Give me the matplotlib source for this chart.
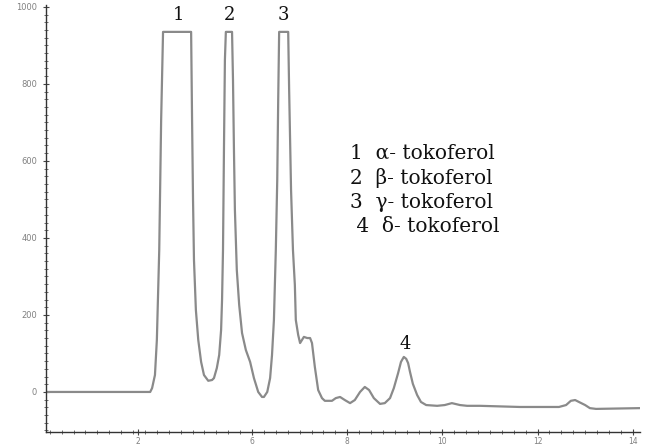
import matplotlib
matplotlib.use('Agg')
import matplotlib.pyplot as plt
from matplotlib.ticker import MultipleLocator

# chromatogram trace (time in min, detector signal)
time_min = [1.69, 3.86, 3.90, 3.96, 4.00, 4.05, 4.09, 4.13,
            4.70, 4.72, 4.74, 4.76, 4.78, 4.82, 4.87, 4.93, 4.99, 5.08,
            5.16, 5.20, 5.26, 5.31, 5.35, 5.37, 5.39, 5.41, 5.43, 5.45,
            5.58, 5.60, 5.62, 5.64, 5.68, 5.73, 5.79, 5.87, 5.96, 6.04,
            6.13, 6.21, 6.25, 6.32, 6.38, 6.42, 6.46, 6.50, 6.53, 6.55,
            6.57, 6.76, 6.78, 6.82, 6.86, 6.90, 6.92, 6.97, 7.01, 7.05,
            7.09, 7.16, 7.22, 7.26, 7.32, 7.39, 7.47, 7.53, 7.68, 7.76,
            7.85, 7.95, 8.06, 8.16, 8.27, 8.37, 8.46, 8.56, 8.69, 8.79,
            8.90, 8.98, 9.07, 9.13, 9.19, 9.24, 9.28, 9.32, 9.38, 9.47,
            9.55, 9.66, 9.89, 10.05, 10.20, 10.37, 10.52, 10.79, 11.63,
            12.45, 12.60, 12.70, 12.79, 12.87, 13.00, 13.10, 13.23, 14.15]
signal = [0, 0, 10, 44, 135, 369, 706, 935,
          935, 935, 706, 499, 343, 213, 135, 78, 44, 29,
          31, 36, 62, 96, 161, 239, 369, 629, 862, 935,
          935, 810, 629, 473, 317, 226, 153, 109, 78, 36,
          0, -13, -13, 0, 36, 96, 187, 369, 551, 758,
          935, 935, 784, 525, 369, 278, 187, 148, 127, 135,
          143, 140, 140, 127, 65, 5, -16, -23, -23, -16,
          -13, -21, -29, -21, 0, 13, 5, -16, -31, -29,
          -16, 10, 49, 78, 91, 86, 75, 52, 21, -8,
          -26, -34, -36, -34, -29, -34, -36, -36, -39,
          -39, -34, -23, -21, -26, -34, -42, -44, -42]

peak_ids = ['1', '2', '3', '4']
peak_pos = [(4.45, 955), (5.52, 955), (6.65, 955), (9.22, 102)]
compounds = ['1  \u03b1- tokoferol', '2  \u03b2- tokoferol',
             '3  \u03b3- tokoferol', ' 4  \u03b4- tokoferol']

xtick_pos = [3.6, 6, 8, 10, 12, 14]
xtick_labels = ['2', '6', '8', '10', '12', '14']
ytick_pos = [0, 200, 400, 600, 800, 1000]

fig = plt.figure(figsize=(6.45, 4.48), dpi=100)
ax = fig.add_axes([0.0713, 0.0357, 0.9207, 0.9533])

ax.plot(time_min, signal, color='#8a8a8a', lw=1.6,
        solid_joinstyle='round', solid_capstyle='round')

ax.set_xlim(1.67, 14.15)
ax.set_ylim(-104, 1005)

for s in ['top', 'right']:
    ax.spines[s].set_visible(False)
for s in ['left', 'bottom']:
    ax.spines[s].set_color('#333333')
    ax.spines[s].set_linewidth(1.0)

ax.set_xticks(xtick_pos)
ax.set_xticklabels(xtick_labels)
ax.set_yticks(ytick_pos)
ax.set_yticklabels([str(v) for v in ytick_pos])
ax.xaxis.set_minor_locator(MultipleLocator(0.25))
ax.yaxis.set_minor_locator(MultipleLocator(20))
ax.tick_params(which='major', direction='inout', length=5, width=0.8,
               color='#444444', labelsize=6, labelcolor='#808080', pad=4)
ax.tick_params(axis='x', which='major', labelsize=5.5, pad=1)
ax.tick_params(which='minor', direction='inout', length=3, width=0.6,
               color='#555555')

serif = ['DejaVu Serif']
for lab, (x, y) in zip(peak_ids, peak_pos):
    ax.text(x, y, lab, ha='center', va='bottom', fontsize=13,
            family=serif, color='#111111')

for i, line in enumerate(compounds):
    fig.text(350 / 645, 1 - (153 + i * 24.5) / 448, line, ha='left',
             va='center', fontsize=14.5, family=serif, color='#111111')

fig.savefig('out.png', dpi=100)
plt.close(fig)
